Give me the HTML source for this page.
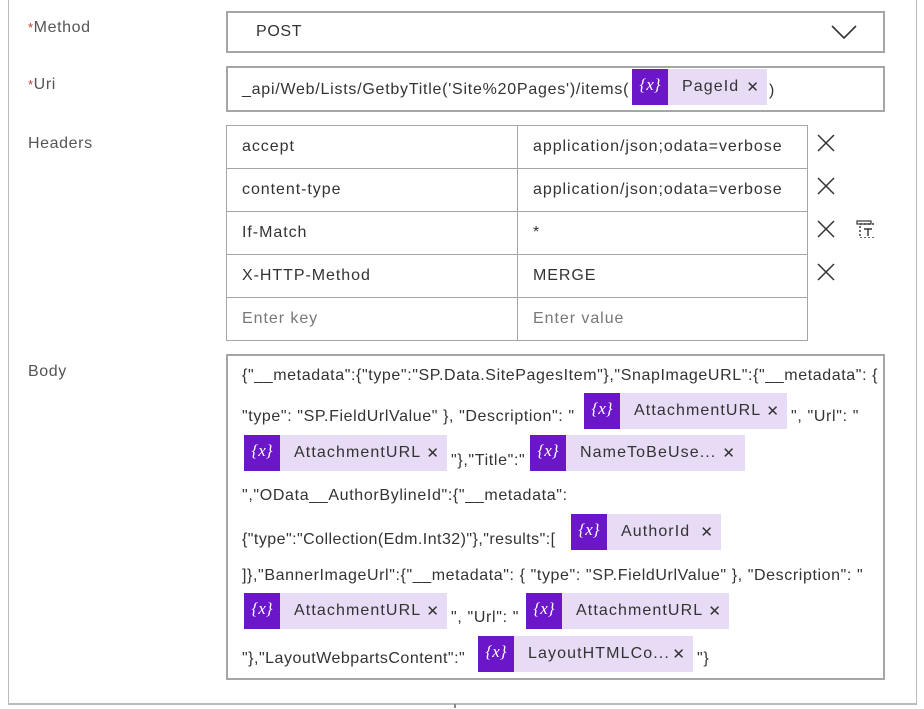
<!DOCTYPE html>
<html><head><meta charset="utf-8"><style>
body{margin:0;width:924px;height:709px;background:#fff;position:relative;overflow:hidden;font-family:"Liberation Sans",sans-serif;color:#333;font-size:16px}
.a{position:absolute;white-space:nowrap;letter-spacing:0.65px}
.lbl{color:#555;font-size:16px;letter-spacing:0.6px}
.req{color:#c0392b;font-size:13px}
.box{position:absolute;border:2px solid #a6a6a6;box-sizing:border-box;background:#fff}
.cell{position:absolute;border:1px solid #a6a6a6;box-sizing:border-box;padding-left:15px;line-height:42px;font-size:16px;color:#333;letter-spacing:0.95px}
.tk{position:absolute;background:#e8dbf5;height:36px}
.tk .d{position:absolute;left:0;top:0;width:36px;height:36px;background:#6b16c8;color:#fff;font-family:"Liberation Serif",serif;font-style:italic;font-size:17px;text-align:center;line-height:32px}
.tk .t{position:absolute;left:50px;top:0;line-height:36px;font-size:16px;color:#333;letter-spacing:1.1px}
.tk .x{position:absolute;right:8px;top:0;line-height:38px;font-size:15px;color:#333}
.xi{position:absolute;width:20px;height:20px}
</style></head><body>
<div class="a" style="left:8px;top:0;width:1px;height:704px;background:#bbb"></div>
<div class="a" style="left:916px;top:0;width:1px;height:704px;background:#bbb"></div>
<div class="a" style="left:8px;top:703px;width:909px;height:2px;background:#bbb"></div>
<div class="a" style="left:454px;top:704px;width:2px;height:4px;background:#888"></div>

<div class="a lbl" style="left:28px;top:19px"><span class="req">*</span>Method</div>
<div class="a lbl" style="left:28px;top:76px"><span class="req">*</span>Uri</div>
<div class="a lbl" style="left:28px;top:135px">Headers</div>
<div class="a lbl" style="left:28px;top:363px">Body</div>

<div class="box" style="left:226px;top:11px;width:659px;height:42px"></div>
<div class="a" style="left:256px;top:23px">POST</div>
<svg class="a" style="left:830px;top:24px" width="28" height="16"><polyline points="2,2 14,14 26,2" fill="none" stroke="#333" stroke-width="1.6"/></svg>

<div class="box" style="left:226px;top:66px;width:659px;height:46px"></div>
<div class="a" style="left:242px;top:81px;letter-spacing:0.75px">_api/Web/Lists/GetbyTitle('Site%20Pages')/items(</div>
<div class="tk" style="left:632px;top:69px;width:135px"><div class="d">{x}</div><div class="t">PageId</div><div class="x">✕</div></div>
<div class="a" style="left:769px;top:82px">)</div>

<div class="cell" style="left:226px;top:125px;width:292px;height:44px">accept</div>
<div class="cell" style="left:517px;top:125px;width:291px;height:44px">application/json;odata=verbose</div>
<div class="cell" style="left:226px;top:168px;width:292px;height:44px">content-type</div>
<div class="cell" style="left:517px;top:168px;width:291px;height:44px">application/json;odata=verbose</div>
<div class="cell" style="left:226px;top:211px;width:292px;height:44px">If-Match</div>
<div class="cell" style="left:517px;top:211px;width:291px;height:44px">*</div>
<div class="cell" style="left:226px;top:254px;width:292px;height:44px">X-HTTP-Method</div>
<div class="cell" style="left:517px;top:254px;width:291px;height:44px">MERGE</div>
<div class="cell" style="left:226px;top:297px;width:292px;height:44px;color:#777">Enter key</div>
<div class="cell" style="left:517px;top:297px;width:291px;height:44px;color:#777">Enter value</div>

<svg class="xi" style="left:816px;top:133px"><path d="M2 2L18 18M18 2L2 18" stroke="#333" stroke-width="1.5"/></svg>
<svg class="xi" style="left:816px;top:176px"><path d="M2 2L18 18M18 2L2 18" stroke="#333" stroke-width="1.5"/></svg>
<svg class="xi" style="left:816px;top:219px"><path d="M2 2L18 18M18 2L2 18" stroke="#333" stroke-width="1.5"/></svg>
<svg class="xi" style="left:816px;top:262px"><path d="M2 2L18 18M18 2L2 18" stroke="#333" stroke-width="1.5"/></svg>
<svg class="xi" style="left:855px;top:218px" width="24" height="24"><rect x="5" y="6" width="16" height="14" fill="none" stroke="#333" stroke-width="1.4" stroke-dasharray="2,2"/><rect x="2" y="3" width="14" height="3" fill="none" stroke="#333" stroke-width="1.2"/><path d="M9 11h8M13 11v7" stroke="#333" stroke-width="1.4"/></svg>

<div class="box" style="left:226px;top:354px;width:659px;height:326px"></div>
<div class="a" style="left:242px;top:367px;letter-spacing:0.6px">{"__metadata":{"type":"SP.Data.SitePagesItem"},"SnapImageURL":{"__metadata": {</div>
<div class="a" style="left:242px;top:408px;letter-spacing:0.6px">"type": "SP.FieldUrlValue" }, "Description": "</div>
<div class="tk" style="left:584px;top:393px;width:203px"><div class="d">{x}</div><div class="t">AttachmentURL</div><div class="x">✕</div></div>
<div class="a" style="left:791px;top:408px">", "Url": "</div>
<div class="tk" style="left:244px;top:435px;width:203px"><div class="d">{x}</div><div class="t">AttachmentURL</div><div class="x">✕</div></div>
<div class="a" style="left:451px;top:452px">"},"Title":"</div>
<div class="tk" style="left:530px;top:435px;width:215px"><div class="d">{x}</div><div class="t">NameToBeUse...</div><div class="x" style="right:10px">✕</div></div>
<div class="a" style="left:242px;top:487px">","OData__AuthorBylineId":{"__metadata":</div>
<div class="a" style="left:242px;top:531px;letter-spacing:0.45px">{"type":"Collection(Edm.Int32)"},"results":[</div>
<div class="tk" style="left:571px;top:514px;width:150px"><div class="d">{x}</div><div class="t">AuthorId</div><div class="x">✕</div></div>
<div class="a" style="left:242px;top:567px;letter-spacing:0.6px">]},"BannerImageUrl":{"__metadata": { "type": "SP.FieldUrlValue" }, "Description": "</div>
<div class="tk" style="left:244px;top:593px;width:203px"><div class="d">{x}</div><div class="t">AttachmentURL</div><div class="x">✕</div></div>
<div class="a" style="left:451px;top:609px">", "Url": "</div>
<div class="tk" style="left:526px;top:593px;width:203px"><div class="d">{x}</div><div class="t">AttachmentURL</div><div class="x">✕</div></div>
<div class="a" style="left:242px;top:650px;letter-spacing:0.5px">"},"LayoutWebpartsContent":"</div>
<div class="tk" style="left:478px;top:636px;width:215px"><div class="d">{x}</div><div class="t">LayoutHTMLCo...</div><div class="x">✕</div></div>
<div class="a" style="left:697px;top:650px">"}</div>
</body></html>
